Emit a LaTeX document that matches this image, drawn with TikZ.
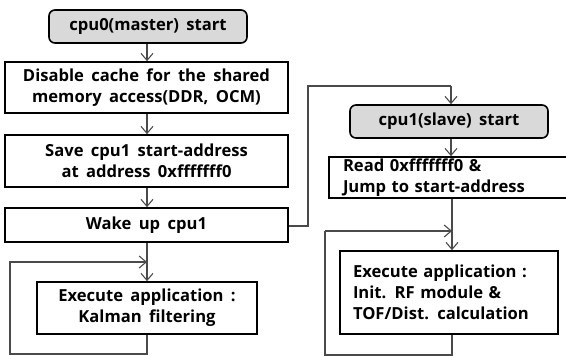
\documentclass[tikz,border=0pt]{standalone}
\usepackage{fontspec}
\setmainfont{Open Sans}[WordSpace=1.7]
\usetikzlibrary{arrows.meta}
\definecolor{startgray}{HTML}{D9D9D9}
\definecolor{linegray}{HTML}{4A4A4A}
\begin{document}
\begin{tikzpicture}[x=1pt,y=-1pt,
  box/.style={draw=black, line width=1.6pt, fill=white, align=center,
    font=\bfseries\fontsize{16.6}{21}\selectfont, inner sep=0pt},
  startbox/.style={box, fill=startgray, rounded corners=6pt},
  conn/.style={draw=linegray, line width=1.1pt, -{Straight Barb[length=7pt,width=12pt]}},
  plain/.style={draw=linegray, line width=1.1pt}]
\useasboundingbox (0,0) rectangle (566,356);
\clip (0,0) rectangle (566,356);
% left column
\node[startbox, minimum width=198pt, minimum height=33pt] (s0) at (148,26.5) {cpu0(master) start};
\node[box, minimum width=283pt, minimum height=51pt] (d) at (146.5,87.5) {Disable cache for the shared\\memory access(DDR, OCM)};
\node[box, minimum width=283pt, minimum height=52pt] (sv) at (146.5,161) {Save cpu1 start-address\\at address 0xfffffff0};
\node[box, minimum width=283pt, minimum height=34pt] (w) at (146.5,225) {Wake up cpu1};
\node[box, minimum width=220pt, minimum height=52pt] (k) at (147,308) {Execute application :\\Kalman filtering};
% right column
\node[startbox, minimum width=198pt, minimum height=33pt] (s1) at (449,121.5) {cpu1(slave) start};
\node[box, align=left, text width=213pt, inner xsep=14pt, minimum height=41pt] (r) at (449.5,177.5) {Read 0xfffffff0 \&\\Jump to start-address};
\node[box, align=left, text width=192pt, inner xsep=13pt, minimum height=83pt] (e) at (449,292.5) {Execute application :\\Init. RF module \&\\TOF/Dist. calculation};
% coordinates
\coordinate (lk1) at (147,354);
\coordinate (lk2) at (10,354);
\coordinate (lk3) at (10,262);
\coordinate (lk4) at (147,262);
\coordinate (c1) at (308,226);
\coordinate (c2) at (308,86);
\coordinate (c3) at (451,86);
\coordinate (le1) at (452,355);
\coordinate (le2) at (325,355);
\coordinate (le3) at (325,231);
\coordinate (le4) at (452,231);
% connectors
\draw[conn] (s0.south -| 147,0) -- (d.north -| 147,0);
\draw[conn] (d.south -| 147,0) -- (sv.north -| 147,0);
\draw[conn] (sv.south -| 147,0) -- (w.north -| 147,0);
\draw[conn] (w.south -| 147,0) -- (k.north -| 147,0);
\draw[plain] (k.south -| 147,0) -- (lk1) -- (lk2) -- (lk3) -- (lk4);
\draw[conn] (lk3) -- (lk4);
\draw[plain] (w.east |- c1) -- (c1) -- (c2) -- (c3);
\draw[conn] (c3) -- (s1.north -| c3);
\draw[conn] (s1.south -| 451,0) -- (r.north -| 451,0);
\draw[conn] (r.south -| 452,0) -- (e.north -| 452,0);
\draw[plain] (e.south -| 452,0) -- (le1) -- (le2) -- (le3);
\draw[conn] (le3) -- (le4);
\end{tikzpicture}
\end{document}
